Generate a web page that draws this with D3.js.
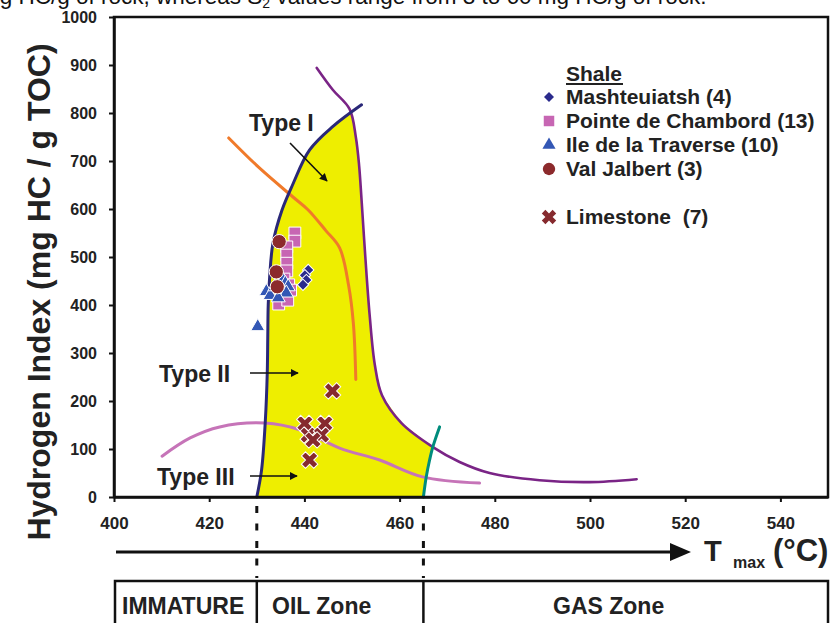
<!DOCTYPE html>
<html>
<head>
<meta charset="utf-8">
<script src="https://cdn.jsdelivr.net/npm/d3@7"></script>
<style>
  body { margin: 0; background: #fff; }
  svg { display: block; font-family: "Liberation Sans", Arial, sans-serif; }
</style>
</head>
<body>
<script>
// tick values
const tmaxTicks = [400, 420, 440, 460, 480, 500, 520, 540];
const hiTicks = [0, 100, 200, 300, 400, 500, 600, 700, 800, 900, 1000];

// kerogen type boundaries [Tmax, HI]
const typeILeft = [[430,0],[431,56],[431.8,160],[432.2,260],[432.3,330],[432.4,400],[432.7,458],[433.4,529],[435.3,598],[437.5,650],[441.1,723],[446,772],[452,817]];
const typeIRight = [[442.6,894],[446,848],[449.5,808],[450.8,750],[451.5,690],[452,620],[452.8,500],[453.7,380],[454.8,275],[456.3,212],[460.4,154],[467,104],[472.6,73],[478.9,50],[489.4,35],[499.9,31],[509.8,37]];
const typeIICurve = [[424.1,748],[430.6,685],[437.6,625],[440.8,598],[444.5,555],[447.4,519],[449.3,440],[450.3,360],[450.8,245]];
const typeIIICurve = [[410.1,85],[416,123],[422.2,146],[431.7,154],[439,140],[447.4,102],[455.8,77],[464.8,42],[476.8,29]];
const gasLimit = [[465,0],[465.6,42],[466.3,77],[467,105],[468.4,146]];
// yellow oil window outline
const oilWindow = [[430,0],[431,56],[431.8,160],[432.2,260],[432.3,330],[432.4,400],[432.7,458],[433.4,529],[435.3,598],[437.5,650],[441.1,723],[446,772],[449.8,802],[450.8,750],[451.5,690],[452,620],[452.8,500],[453.7,380],[454.8,275],[456.3,212],[460.4,154],[467,104],[466.3,77],[465.6,42],[465,0]];

// samples [Tmax, HI]
const mashteuiatsh = [[440.8,473],[440.1,462],[440.4,452],[439.7,442]];
const pointeChambord = [[438,550],[438,533],[436.3,521],[436.3,504],[436.3,487],[436.3,471],[435.7,454],[436.7,442],[435.3,431],[435.5,419],[434.6,402],[436.5,410],[437.1,431]];
const ileTraverse = [[430.2,355],[432,428],[432.8,420],[433.8,438],[435.5,452],[436,445],[436.6,438],[435.2,432],[436.2,425],[434.5,415]];
const valJalbert = [[434.7,532],[434.1,469],[434.3,438]];
const limestone = [[445.9,221],[440.1,153],[444.3,153],[440.8,129],[443.6,129],[441.8,119],[441.1,77]];

const legendNames = ["Mashteuiatsh (4)", "Pointe de Chambord (13)", "Ile de la Traverse (10)", "Val Jalbert (3)"];
const zoneNames = ["IMMATURE", "OIL Zone", "GAS Zone"];

const W = 831, H = 623;
const svg = d3.select("body").append("svg").attr("width", W).attr("height", H);

const x = d3.scaleLinear().domain([400, 550]).range([114, 828]);
const y = d3.scaleLinear().domain([0, 1000]).range([497, 17]);

svg.append("defs").append("marker")
  .attr("id", "arr").attr("viewBox", "0 0 10 10").attr("refX", 9).attr("refY", 5)
  .attr("markerWidth", 5).attr("markerHeight", 5).attr("orient", "auto")
  .append("path").attr("d", "M0,0L10,5L0,10z").attr("fill", "#111");

// caption cut at top
const cap = svg.append("text").attr("x", -19).attr("y", 4).attr("font-size", 22.5).attr("fill", "#111");
cap.append("tspan").text("mg HC/g of rock, whereas S");
cap.append("tspan").attr("font-size", 14).attr("dy", 4).text("2");
cap.append("tspan").attr("dy", -4).text(" values range from 3 to 60 mg HC/g of rock.");

const line = d3.line().x(d => x(d[0])).y(d => y(d[1])).curve(d3.curveCatmullRom);

svg.append("path").datum(oilWindow)
  .attr("d", d3.line().x(d => x(d[0])).y(d => y(d[1])).curve(d3.curveLinear))
  .attr("fill", "#eeee00");

function curve(data, color, w) {
  svg.append("path").datum(data).attr("d", line)
    .attr("fill", "none").attr("stroke", color).attr("stroke-width", w).attr("stroke-linecap", "round");
}
curve(typeIIICurve, "#c674b8", 3);
curve(typeIICurve, "#f07a2a", 3);
curve(typeIRight, "#7a2486", 2.6);
curve(typeILeft, "#2a2878", 3);
curve(gasLimit, "#008c7c", 3);

// frame and axes
svg.append("rect").attr("x", x(400)).attr("y", y(1000)).attr("width", x(550) - x(400)).attr("height", y(0) - y(1000))
  .attr("fill", "none").attr("stroke", "#111").attr("stroke-width", 2.5);

const xAxis = svg.append("g").attr("transform", `translate(0,${y(0)})`)
  .call(d3.axisBottom(x).tickValues(tmaxTicks).tickFormat(d3.format("d")).tickSize(5).tickSizeOuter(0).tickPadding(15));
const yAxis = svg.append("g").attr("transform", `translate(${x(400)},0)`)
  .call(d3.axisLeft(y).tickValues(hiTicks).tickFormat(d3.format("d")).tickSize(5).tickSizeOuter(0).tickPadding(12));
[xAxis, yAxis].forEach(a => {
  a.select(".domain").attr("stroke", "#111").attr("stroke-width", 2.5);
  a.selectAll(".tick line").attr("stroke", "#111").attr("stroke-width", 2);
  a.selectAll(".tick text").attr("font-family", "'Liberation Sans', Arial, sans-serif")
    .attr("font-weight", "bold").attr("fill", "#222");
});
xAxis.selectAll(".tick text").attr("font-size", 17);
yAxis.selectAll(".tick text").attr("font-size", 16);

svg.append("text").attr("transform", "translate(50,292) rotate(-90)")
  .attr("text-anchor", "middle").attr("font-size", 32).attr("font-weight", "bold").attr("fill", "#222")
  .text("Hydrogen Index (mg HC / g TOC)");

// sample markers
const sym = (type, size) => d3.symbol().type(type).size(size)();
function points(data, type, size, fill, stroke, rot) {
  svg.append("g").selectAll("path").data(data).join("path")
    .attr("d", sym(type, size))
    .attr("transform", d => `translate(${x(d[0])},${y(d[1])}) rotate(${rot || 0})`)
    .attr("fill", fill).attr("stroke", stroke).attr("stroke-width", 1);
}
points(pointeChambord, d3.symbolSquare, 140, "#c766b3", "#fff");
points(ileTraverse, d3.symbolTriangle, 85, "#3357b5", "#fff");
points(valJalbert, d3.symbolCircle, 160, "#8c2a2c", "#fff");
points(mashteuiatsh, d3.symbolSquare, 65, "#2a2a8c", "#fff", 45);
points(limestone, d3.symbolCross, 170, "#862a2e", "#fff", 45);

// kerogen type labels
const types = [["Type I", 249, 131, [290, 143], [327, 181]], ["Type II", 159, 382, [250, 373], [298, 373]], ["Type III", 157, 485, [250, 476], [297, 476]]];
types.forEach(t => {
  svg.append("text").attr("x", t[1]).attr("y", t[2]).attr("font-size", 23).attr("font-weight", "bold")
    .attr("fill", "#222").text(t[0]);
  svg.append("line").attr("x1", t[3][0]).attr("y1", t[3][1]).attr("x2", t[4][0]).attr("y2", t[4][1])
    .attr("stroke", "#111").attr("stroke-width", 1.6).attr("marker-end", "url(#arr)");
});

// legend
const lg = svg.append("g").attr("font-size", 21).attr("font-weight", "bold").attr("fill", "#222");
lg.append("text").attr("x", 566).attr("y", 81).text("Shale");
lg.append("line").attr("x1", 566).attr("x2", 623).attr("y1", 84).attr("y2", 84).attr("stroke", "#222").attr("stroke-width", 1.8);
const legSym = [[d3.symbolSquare, 50, "#2a2a8c", 45], [d3.symbolSquare, 110, "#c766b3", 0], [d3.symbolTriangle, 75, "#3357b5", 0], [d3.symbolCircle, 120, "#8c2a2c", 0]];
legendNames.forEach((n, i) => {
  const yy = 104 + i * 24;
  lg.append("path").attr("d", sym(legSym[i][0], legSym[i][1]))
    .attr("transform", `translate(549,${yy - 7}) rotate(${legSym[i][3]})`).attr("fill", legSym[i][2]);
  lg.append("text").attr("x", 566).attr("y", yy).text(n);
});
lg.append("path").attr("d", sym(d3.symbolCross, 130)).attr("transform", "translate(549,217) rotate(45)").attr("fill", "#862a2e");
lg.append("text").attr("x", 566).attr("y", 224).attr("xml:space", "preserve").text("Limestone  (7)");

// Tmax arrow
svg.append("line").attr("x1", 116).attr("x2", 672).attr("y1", 552).attr("y2", 552).attr("stroke", "#111").attr("stroke-width", 3);
svg.append("path").attr("d", "M670,543L691,552L670,561z").attr("fill", "#111");
const tl = svg.append("text").attr("y", 561).attr("font-weight", "bold").attr("fill", "#222");
tl.append("tspan").attr("x", 704).attr("font-size", 29).text("T");
tl.append("tspan").attr("x", 733).attr("dy", 7).attr("font-size", 16).text("max");
tl.append("tspan").attr("x", 773).attr("dy", -7).attr("font-size", 31).text("(°C)");

// zone dividers (dashed) and zone boxes
[430, 465].forEach(v => {
  svg.append("line").attr("x1", x(v)).attr("x2", x(v)).attr("y1", 506).attr("y2", 578)
    .attr("stroke", "#111").attr("stroke-width", 3).attr("stroke-dasharray", "7,10.5");
});
svg.append("rect").attr("x", 115).attr("y", 581).attr("width", 713).attr("height", 60)
  .attr("fill", "none").attr("stroke", "#111").attr("stroke-width", 2.5);
[430, 465].forEach(v => {
  svg.append("line").attr("x1", x(v)).attr("x2", x(v)).attr("y1", 581).attr("y2", H)
    .attr("stroke", "#111").attr("stroke-width", 2.5);
});
const zoneX = [122, 272, 553];
zoneNames.forEach((n, i) => {
  svg.append("text").attr("x", zoneX[i]).attr("y", 614).attr("font-size", 23).attr("font-weight", "bold")
    .attr("fill", "#222").text(n);
});
</script>
</body>
</html>
